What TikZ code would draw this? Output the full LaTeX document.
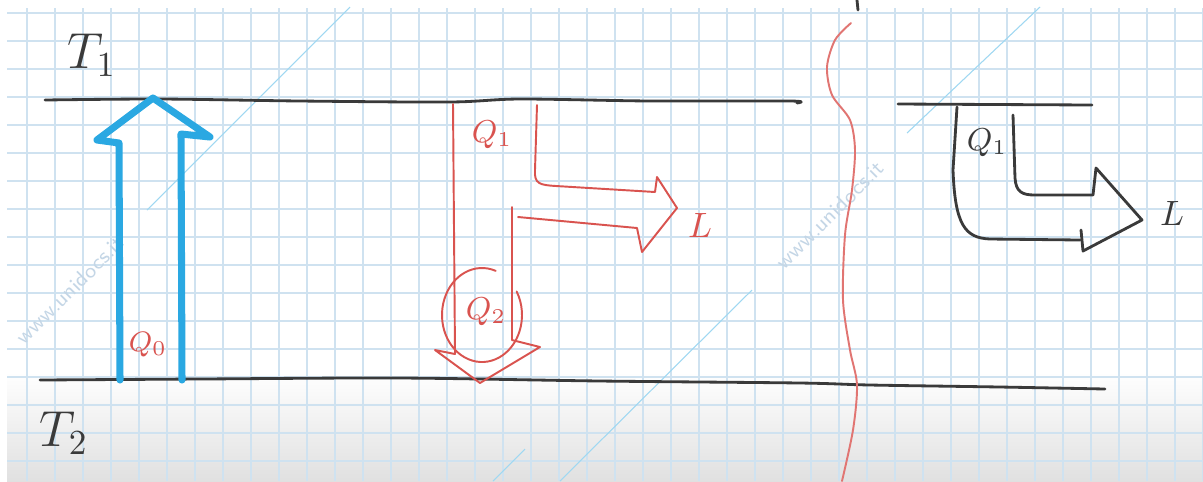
\documentclass[tikz,border=0pt]{standalone}
\usepackage{tikz}
\definecolor{gridblue}{HTML}{CFE2F0}
\definecolor{pencilgray}{HTML}{3A3A3A}
\definecolor{inkred}{HTML}{D9534F}
\definecolor{inkblue}{HTML}{2AA8E2}
\definecolor{wmgray}{HTML}{C4D6E6}

\begin{document}
\begin{tikzpicture}[x=0.01cm, y=-0.01cm,
  gridline/.style={draw=gridblue, line width=0.45pt},
  faint/.style={draw=inkblue!45, line width=0.3pt},
  pencil/.style={draw=pencilgray, line width=0.8pt, line cap=round, line join=round},
  redpen/.style={draw=inkred, line width=0.55pt, line cap=round, line join=round},
  bluepen/.style={draw=inkblue, line width=2pt, line cap=round, line join=round},
  watermark/.style={text=wmgray, font=\sffamily\fontsize{6}{7}\selectfont, rotate=45},
  redlbl/.style={text=inkred, font=\small},
  blklbl/.style={text=pencilgray, font=\Large}]
  \useasboundingbox (0,0) rectangle (1203,481);
  \fill[white] (0,0) rectangle (1203,481);
  \shade[top color=white, bottom color=black!12] (7,372) rectangle (1203,481);
  \foreach \x in {27,55,...,1203} \draw[gridline] (\x,8) -- (\x,481);
  \foreach \y in {13,41,...,481} \draw[gridline] (7,\y) -- (1203,\y);

  \draw[faint] (147,210) -- (350,7);
  \draw[faint] (560,481) -- (752,290);
  \draw[faint] (493,481) -- (525,449);
  \draw[faint] (907,133) -- (1040,7);
  \node[watermark] (wm1) at (70,290) {www.unidocs.it};
  \node[watermark] (wm2) at (830,215) {www.unidocs.it};

  \draw[pencil] plot[smooth] coordinates {(45,100) (160,99) (300,101) (450,102) (520,99) (650,101) (790,101) (797,103)};
  \draw[pencil] plot[smooth] coordinates {(40,380) (200,379) (400,378) (600,381) (800,383) (870,385) (1000,387) (1105,389)};
  \draw[pencil] (898,104) -- (1092,105);
  \draw[pencil] (857,0) -- (858,10);
  \node[blklbl] (t1) at (92,55) {$T_1$};
  \node[blklbl] (t2) at (64,433) {$T_2$};

  \draw[bluepen] (120,380) -- (119,143) -- (97,140) -- (153,98) -- (210,137) -- (181,134) -- (182,380);
  \node[redlbl, font=\footnotesize] (q0) at (148,345) {$Q_0$};

  \draw[redpen] (512,207) -- (512,340) -- (540,347) -- (480,383) -- (435,350) -- (455,354) -- (453,104);
  \draw[redpen] (482,315) ++(-70:40 and 47) arc[start angle=-70, end angle=-390, x radius=40, y radius=47];
  \node[redlbl] (q2) at (486,312) {$Q_2$};
  \node[redlbl] (q1) at (492,135) {$Q_1$};
  \draw[redpen] (537,105) -- (535,170) .. controls (534,184) and (540,185) .. (556,186) -- (655,192) -- (657,177) -- (677,208) -- (642,252) -- (637,228) -- (518,217);
  \node[redlbl, font=\normalsize] (lred) at (700,225) {$L$};

  \draw[redpen, draw=inkred!80] plot[smooth] coordinates {(851,23) (835,40) (827,67) (832,95) (850,120) (855,150) (852,190) (845,235) (843,300) (850,350) (857,385) (853,430) (842,481)};

  \draw[pencil] (957,107) -- (953,170) .. controls (955,225) and (965,238) .. (990,239) -- (1080,240);
  \draw[pencil] (1013,115) -- (1015,178) .. controls (1016,192) and (1022,195) .. (1035,195) -- (1093,195) -- (1096,168) -- (1142,220) -- (1083,251) -- (1081,230);
  \node[blklbl, font=\small] (q1b) at (987,143) {$Q_1$};
  \node[blklbl, font=\normalsize] (lblk) at (1172,213) {$L$};
\end{tikzpicture}
\end{document}
